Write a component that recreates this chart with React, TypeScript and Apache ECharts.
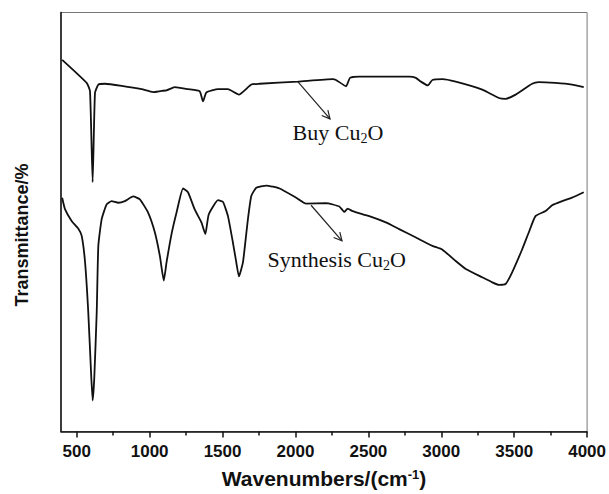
import React, { useEffect, useRef } from 'react';
import * as echarts from 'echarts';

// ---- data ----
const MAJOR_TICKS = [500, 1000, 1500, 2000, 2500, 3000, 3500, 4000];
const MINOR_TICKS = [750, 1250, 1750, 2250, 2750, 3250, 3750];

const BUY_WN = [400, 568, 591, 609, 625, 648, 694, 808, 945, 1024, 1081, 1116, 1172, 1263, 1343, 1366, 1389, 1469, 1537, 1612, 1697, 1754, 2016, 2255, 2278, 2347, 2374, 2438, 2780, 2826, 2860, 2908, 2939, 3008, 3099, 3281, 3395, 3441, 3510, 3623, 3668, 3783, 3897, 3977];
const BUY_T = [88.7, 83.2, 81.2, 59.5, 80.8, 82.8, 83.0, 82.5, 81.7, 81.0, 81.3, 81.4, 82.2, 81.7, 81.2, 78.8, 80.9, 81.7, 81.7, 80.4, 82.8, 83.0, 83.5, 84.1, 83.9, 82.4, 84.4, 84.7, 84.7, 84.4, 83.5, 82.6, 83.9, 84.1, 83.5, 81.6, 79.6, 79.4, 80.4, 83.0, 83.4, 83.2, 82.8, 82.2];

const SYN_WN = [400, 420, 466, 511, 534, 557, 579, 598, 609, 620, 637, 648, 671, 705, 739, 785, 830, 887, 933, 990, 1036, 1070, 1097, 1116, 1150, 1184, 1229, 1263, 1309, 1355, 1382, 1405, 1469, 1503, 1537, 1571, 1594, 1612, 1640, 1674, 1697, 1731, 1800, 1891, 2005, 2073, 2210, 2301, 2335, 2358, 2392, 2506, 2620, 2711, 2826, 2939, 3008, 3099, 3168, 3281, 3350, 3395, 3441, 3486, 3555, 3600, 3646, 3715, 3760, 3829, 3897, 3977];
const SYN_T = [55.8, 53.0, 50.2, 48.4, 46.7, 40.4, 28.5, 14.2, 7.4, 12.6, 28.5, 44.3, 50.7, 54.2, 55.0, 54.6, 55.0, 56.1, 55.4, 52.2, 47.5, 41.9, 36.0, 40.4, 47.1, 52.2, 58.0, 57.1, 53.0, 49.9, 47.1, 51.8, 55.2, 54.8, 51.4, 45.1, 40.4, 37.0, 40.4, 50.7, 56.2, 58.2, 58.7, 58.0, 55.8, 54.4, 54.5, 53.7, 52.4, 53.2, 52.6, 51.4, 49.9, 48.3, 46.3, 44.3, 43.4, 40.7, 38.8, 36.8, 35.6, 35.0, 35.2, 38.0, 43.5, 47.5, 51.4, 52.6, 54.0, 55.0, 55.8, 57.1];

// annotation anchors in data coordinates: [from, to] for arrows, and text baselines
const BUY_ARROW = [[2016, 83.5], [2237, 74.6]];
const SYN_ARROW = [[2107, 54.0], [2319, 45.5]];
const BUY_TEXT_AT = [1980, 69.9];
const SYN_TEXT_AT = [1808, 39.5];
const BUY_LABEL = ['Buy Cu', '2', 'O'];
const SYN_LABEL = ['Synthesis Cu', '2', 'O'];

const SANS = "'Liberation Sans', Arial, Helvetica, sans-serif";
const SERIF = "'Liberation Serif', 'Times New Roman', Times, serif";
const INK = '#111';

function zip(xs: number[], ys: number[]) {
  return xs.map((x, i) => [x, ys[i]]);
}

let measureCtx: CanvasRenderingContext2D | null = null;
function textWidth(text: string, font: string) {
  if (!measureCtx) measureCtx = document.createElement('canvas').getContext('2d');
  measureCtx!.font = font;
  return measureCtx!.measureText(text).width;
}

export default function App() {
  const ref = useRef<HTMLDivElement>(null);

  useEffect(() => {
    const chart = echarts.init(ref.current!, null, { renderer: 'svg' });
    const option: any = {
      animation: false,
      backgroundColor: '#fff',
      grid: {
        left: 61,
        right: 20.5,
        top: 12.5,
        bottom: 61.5,
        show: true,
        borderColor: '#777',
        borderWidth: 1,
      },
      xAxis: [
        {
          type: 'value',
          min: 392,
          max: 4000,
          name: '{a|Wavenumbers/(cm}{s|-1}{a|)}',
          nameLocation: 'middle',
          nameGap: 36,
          nameTextStyle: {
            rich: {
              a: { fontFamily: SANS, fontSize: 21, fontWeight: 'bold', color: INK, lineHeight: 22 },
              s: { fontFamily: SANS, fontSize: 13, fontWeight: 'bold', color: INK, lineHeight: 10, verticalAlign: 'top' },
            },
          },
          axisLine: { show: true, onZero: false, lineStyle: { color: INK, width: 1.5 } },
          axisTick: { show: true, customValues: MAJOR_TICKS, length: 6, lineStyle: { color: INK, width: 1.5 } },
          axisLabel: {
            customValues: MAJOR_TICKS,
            formatter: (v: number) => String(v),
            fontFamily: SANS,
            fontSize: 17,
            fontWeight: 'bold',
            color: INK,
            margin: 11,
          },
          splitLine: { show: false },
        },
        {
          type: 'value',
          min: 392,
          max: 4000,
          position: 'bottom',
          gridIndex: 0,
          axisLine: { show: false },
          axisLabel: { show: false },
          axisTick: { show: true, customValues: MINOR_TICKS, length: 4, lineStyle: { color: INK, width: 1.5 } },
          splitLine: { show: false },
        },
      ],
      yAxis: {
        type: 'value',
        min: 0,
        max: 100,
        axisLine: { show: true, onZero: false, lineStyle: { color: INK, width: 1.5 } },
        axisTick: { show: false },
        axisLabel: { show: false },
        splitLine: { show: false },
      },
      series: [
        {
          name: 'Buy Cu2O',
          type: 'line',
          data: zip(BUY_WN, BUY_T),
          showSymbol: false,
          symbol: 'none',
          smooth: 0.15,
          lineStyle: { color: INK, width: 1.8 },
          color: INK,
        },
        {
          name: 'Synthesis Cu2O',
          type: 'line',
          data: zip(SYN_WN, SYN_T),
          showSymbol: false,
          symbol: 'none',
          smooth: 0.15,
          lineStyle: { color: INK, width: 1.8 },
          color: INK,
        },
      ],
    };
    chart.setOption(option);

    const px = (p: number[]) => chart.convertToPixel({ gridIndex: 0 }, p) as number[];

    const arrow = (seg: number[][]) => {
      const a = px(seg[0]);
      const b = px(seg[1]);
      const dx = b[0] - a[0];
      const dy = b[1] - a[1];
      const len = Math.hypot(dx, dy);
      const ux = dx / len;
      const uy = dy / len;
      const L = 9;
      const th = (27 * Math.PI) / 180;
      const rot = (s: number) => [
        b[0] - L * (ux * Math.cos(s * th) - uy * Math.sin(s * th)),
        b[1] - L * (ux * Math.sin(s * th) + uy * Math.cos(s * th)),
      ];
      return [
        { type: 'line', shape: { x1: a[0], y1: a[1], x2: b[0], y2: b[1] }, style: { stroke: '#222', lineWidth: 1.2 } },
        { type: 'polyline', shape: { points: [rot(1), b, rot(-1)] }, style: { stroke: '#222', lineWidth: 1.2, fill: null } },
      ];
    };

    // chemical-formula label with a lowered subscript, laid out piece by piece
    const label = (at: number[], parts: string[]) => {
      const p = px(at);
      const mainSize = 22;
      const subSize = 14;
      const mainFont = `${mainSize}px ${SERIF}`;
      const subFont = `${subSize}px ${SERIF}`;
      const w0 = textWidth(parts[0], mainFont);
      const w1 = textWidth(parts[1], subFont);
      const base = p[1];
      const mk = (text: string, x: number, y: number, size: number) => ({
        type: 'text',
        x,
        y,
        style: {
          text,
          fontFamily: SERIF,
          fontSize: size,
          fill: INK,
          align: 'left',
          verticalAlign: 'bottom',
        },
      });
      return [
        mk(parts[0], p[0], base + mainSize * 0.22, mainSize),
        mk(parts[1], p[0] + w0, base + 3.5 + subSize * 0.22, subSize),
        mk(parts[2], p[0] + w0 + w1, base + mainSize * 0.22, mainSize),
      ];
    };

    chart.setOption({
      graphic: [
        ...arrow(BUY_ARROW),
        ...arrow(SYN_ARROW),
        ...label(BUY_TEXT_AT, BUY_LABEL),
        ...label(SYN_TEXT_AT, SYN_LABEL),
        {
          type: 'text',
          x: 21.5,
          y: 235,
          rotation: Math.PI / 2,
          style: {
            text: 'Transmittance/%',
            fontFamily: SANS,
            fontSize: 18,
            fontWeight: 'bold',
            fill: INK,
            align: 'center',
            verticalAlign: 'middle',
          },
        },
      ],
    });

    return () => chart.dispose();
  }, []);

  return (
    <div
      ref={ref}
      style={{ position: 'fixed', left: 0, top: 0, width: 609, height: 494, background: '#fff' }}
    />
  );
}
